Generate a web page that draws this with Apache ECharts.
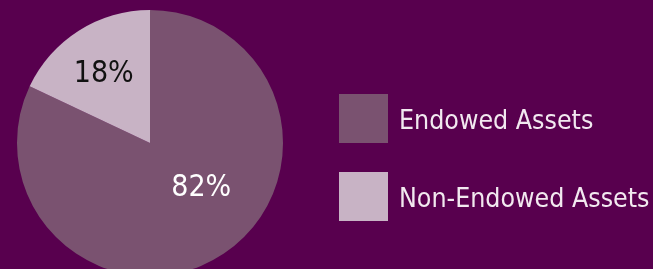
<!DOCTYPE html>
<html>
<head>
<meta charset="utf-8">
<script src="https://cdn.jsdelivr.net/npm/echarts@6/dist/echarts.min.js"></script>
<style>
html,body{margin:0;padding:0;background:#58004e;}
#chart{width:653px;height:269px;}
</style>
</head>
<body>
<div id="chart"></div>
<script>
const categories = ["Endowed Assets", "Non-Endowed Assets"];
const values = [82, 18];
const labels = ["82%", "18%"];

const colors = ["#7a5270", "#c8b3c5"];
const labelColors = ["#ffffff", "#111111"];
const labelOffsets = [[14, -13], [-9, -10]];
const FONT = '"DejaVu Sans Condensed", "Liberation Sans", sans-serif';

const chart = echarts.init(document.getElementById('chart'), null, {renderer: 'canvas'});
chart.setOption({
  backgroundColor: '#58004e',
  animation: false,
  legend: {
    orient: 'vertical',
    left: 339,
    top: 94,
    padding: 0,
    itemWidth: 49,
    itemHeight: 49,
    itemGap: 29,
    icon: 'rect',
    data: categories,
    formatter: '{t|{name}}',
    textStyle: {
      color: '#f2e9f0',
      fontFamily: FONT,
      fontSize: 26.5,
      padding: [0, 0, 0, 6],
      rich: {
        t: {
          color: '#f2e9f0',
          fontFamily: FONT,
          fontSize: 26.5,
          padding: [7, 0, 0, 0]
        }
      }
    }
  },
  series: [{
    type: 'pie',
    center: [150, 143],
    radius: 133,
    startAngle: 90,
    clockwise: true,
    label: {
      show: true,
      position: 'inside',
      fontFamily: FONT,
      fontSize: 30
    },
    labelLine: {show: false},
    emphasis: {disabled: true},
    itemStyle: {borderWidth: 0},
    data: categories.map((c, i) => ({
      name: c,
      value: values[i],
      itemStyle: {color: colors[i]},
      label: {
        formatter: labels[i],
        color: labelColors[i],
        offset: labelOffsets[i]
      }
    }))
  }]
});
</script>
</body>
</html>
